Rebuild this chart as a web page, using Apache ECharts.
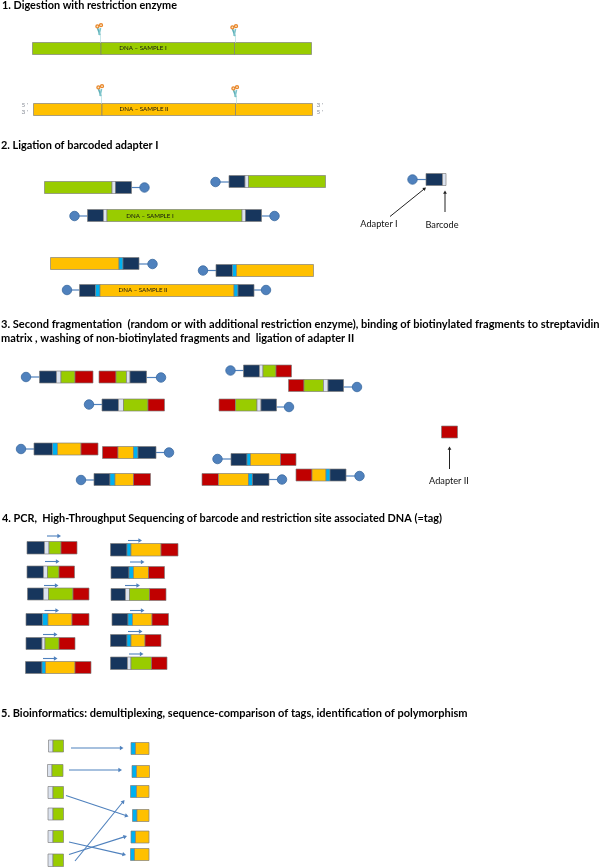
<!DOCTYPE html>
<html><head><meta charset="utf-8">
<style>html,body{margin:0;padding:0;background:#fff}#c{width:600px;height:868px}</style>
<script src="https://cdn.jsdelivr.net/npm/echarts@6/dist/echarts.min.js"></script>
</head><body><div id="c"></div>
<script>
// ---- text ----
const titles = [
  ["1. Digestion with restriction enzyme", 2, 5, 10.87],
  ["2. Ligation of barcoded adapter I", 1, 145, 10.95],
  ["3. Second fragmentation  (random or with additional restriction enzyme), binding of biotinylated fragments to streptavidin", 1, 324, 11.1],
  ["matrix , washing of non-biotinylated fragments and  ligation of adapter II", 1, 338.5, 11],
  ["4. PCR,  High-Throughput Sequencing of barcode and restriction site associated DNA (=tag)", 2, 518.5, 10.88],
  ["5. Bioinformatics: demultiplexing, sequence-comparison of tags, identification of polymorphism", 1, 713, 11.04]
];
const sampleLabels = [["DNA – SAMPLE I",143,48],["DNA – SAMPLE II",144,109],["DNA – SAMPLE I",150,216],["DNA – SAMPLE II",143,290]];
const calloutLabels = [["Adapter I",379,224],["Barcode",442,225],["Adapter II",449,481]];
const endLabels = [["5 '",25,105],["3 '",25,112],["3 '",320,105],["5 '",320,112]];
// ---- parts: n navy adapter, w white barcode, b blue barcode, g green DNA, y yellow DNA, r red adapter ----
// [top, bottom, part letters, edge x positions]
const digestFragments = [
  [42.5,54.5,"ggg",[32.5,101,234.5,311.5]],
  [103.5,115.5,"yyy",[33.5,102,235.5,312.5]]
];
const ligatedFragments = [
  [181.5,193.5,"gwn",[44.5,112,115.5,131.5]],
  [175.5,187.5,"nwg",[229,245,248.5,325.5]],
  [209.5,221.5,"nwgwn",[87.5,103.5,107,242,245.5,261.5]],
  [257.5,269.5,"ybn",[50.5,119,123,139]],
  [264.5,276.5,"nby",[216,232.5,236.5,313.5]],
  [284.5,296.5,"nbybn",[79.5,95.5,100,234,238,254]],
  [173.5,185.5,"nw",[426,442.5,446]]
];
const secondFragments = [
  [371,383,"nwgr",[39.5,56.5,61,75,93]],
  [371,383,"rgwn",[99,116,126.5,130,146.5]],
  [399,411,"nwgr",[102,118.5,123.5,148,164.5]],
  [443,455,"nbyr",[34,52.5,57.5,81,98]],
  [446.5,458.5,"rybn",[102.5,118,133.5,138,156]],
  [473.5,485.5,"nbyr",[94,110,115,133.5,150.5]],
  [365,377,"nwgr",[243.5,259.5,263,276,291.5]],
  [379.5,391.5,"rgwn",[288.5,304,323.5,328,343.5]],
  [399,411,"rgwn",[219,235.5,257,261,276.5]],
  [453.5,465.5,"nbyr",[231,247,250.5,280.5,296]],
  [473.5,485.5,"rybn",[202,218.5,248.5,252.5,269]],
  [469,481,"rybn",[296,312,326,330,346]],
  [426,438,"r",[441.5,457.5]]
];
const pcrFragments = [
  [541.5,554,"nwgr",[27,44.5,49,61,77]],
  [566,578,"nwgr",[27,43.5,47.5,59,74.5]],
  [588,600,"nwgr",[27.5,43.5,48.5,73,89]],
  [613.5,625.5,"nbyr",[26,42.5,48,72,89]],
  [637.5,649.5,"nwgr",[26,42,45,59,75]],
  [661.5,673.5,"nbyr",[25.5,42,45.5,75,91]],
  [543.5,556,"nbyr",[110.5,127,131,161,178]],
  [566.5,578.5,"nbyr",[111,129,133.5,148.5,164.5]],
  [588.5,600.5,"nwgr",[111,125.5,129.5,149.5,166]],
  [613.5,625.5,"nbyr",[112,128,132.5,152,168.5]],
  [634.5,646.5,"nbyr",[110.5,127,131,145,161]],
  [657,669.5,"nwgr",[110.5,127.5,131,151.5,167]]
];
const tagFragments = [
  [740,752,"wg",[48.5,53,63.5]],
  [764.5,776.5,"wg",[47.5,52,63]],
  [786.5,798.5,"wg",[48,53,63.5]],
  [808,820,"wg",[48,53,63.5]],
  [830.5,842.5,"wg",[48,53,63.5]],
  [854,866.5,"wg",[48,53,63.5]],
  [742.5,754.5,"by",[131,135.5,149]],
  [765.5,777.5,"by",[132,136.5,149.5]],
  [785.5,797.5,"by",[130.5,136.5,149]],
  [809.5,821.5,"by",[132.5,137,149]],
  [831,843,"by",[131,135.5,149]],
  [848.5,860.5,"by",[130.5,134.5,149]]
];
// biotin tether: [bead x, bead y, fragment end x]
const biotinAdapters = [
  [144.5,187.5,131.5],[215.5,182,229],[74.5,216,87.5],[274.5,216,261.5],
  [152.5,264,139],[203,270.5,216],[67,290,79.5],[266,290,254],[412.5,179.5,426],
  [26,377,39.5],[161,377.5,146.5],[89,404.5,102],
  [21,449,34],[169,452.5,156],[81,480,94],
  [230.5,370.5,243.5],[357,387,343.5],[289,407,276.5],
  [217.5,459,231],[282,479.5,269],[359.5,476,346]
];
// restriction sites: scissors [x, y, bar top]
const cutSites = [[99,29,42.5],[234,30,42.5],[100,90,103.5],[235,91,103.5]];
const blueArrows = [
  [47,536,61,536],[45,561.5,59.5,561.5],[44,585.5,58.5,585.5],[44.5,610.5,59,610.5],[43,634.5,57.5,634.5],[43,658.5,57.5,658.5],
  [128,540.5,142,540.5],[130,562,144.5,562],[125,585.5,140,585.5],[130,610.5,144.5,610.5],[128,631.5,142.5,631.5],[129,654,143.5,654],
  [71,748,123.5,748],[69,770,122,770],[66,795.5,128.5,816.5],[75,861,124.5,800],[69,854.5,127,836],[69,842,126,855]
];
const blackArrows = [[390,216.5,426,187.5],[445,212,445,190.5],[449.5,469,449.5,446.5]];

const partColors = {n:"#17365D",w:"#DCE3EF",b:"#00B0F0",g:"#99CC00",y:"#FFC000",r:"#C00000"};
const allFragments = [...digestFragments,...ligatedFragments,...secondFragments,...pcrFragments,...tagFragments];
const segments = [];
allFragments.forEach(([t,b,parts,edges])=>{
  [...parts].forEach((p,i)=>segments.push({value:[edges[i],t,edges[i+1],b],color:partColors[p]}));
});
const arrowRows = [...blueArrows.map(a=>({value:a,color:"#4F81BD",w:1.1,h:3.6})),...blackArrows.map(a=>({value:a,color:"#222",w:1,h:3.2}))];
const textRows = [
  ...titles.map(t=>({value:[t[1],t[2]],text:t[0],font:"bold "+t[3]+"px Lato",color:"#000",align:"left"})),
  ...sampleLabels.map(t=>({value:[t[1],t[2]],text:t[0],font:"6.2px Lato",color:"#111",align:"center"})),
  ...calloutLabels.map(t=>({value:[t[1],t[2]],text:t[0],font:"9.2px Lato",color:"#111",align:"center"})),
  ...endLabels.map(t=>({value:[t[1],t[2]],text:t[0],font:"6.5px Lato",color:"#8a8f99",align:"center"}))
];
const chart = echarts.init(document.getElementById("c"),null,{renderer:"canvas"});
chart.setOption({
  animation:false,
  backgroundColor:"#fff",
  grid:{left:0,right:0,top:0,bottom:0},
  xAxis:{type:"value",min:0,max:600,show:false},
  yAxis:{type:"value",min:0,max:868,inverse:true,show:false},
  series:[
    {type:"custom",silent:true,clip:false,data:biotinAdapters,renderItem(p,api){
      const a=api.coord([api.value(0),api.value(1)]),b=api.coord([api.value(2),api.value(1)]);
      return {type:"line",shape:{x1:a[0],y1:a[1],x2:b[0],y2:b[1]},style:{stroke:"#4F81BD",lineWidth:1.2}};
    }},
    {type:"custom",silent:true,clip:false,data:segments,renderItem(p,api){
      const a=api.coord([api.value(0),api.value(1)]),b=api.coord([api.value(2),api.value(3)]);
      return {type:"rect",shape:{x:a[0],y:a[1],width:b[0]-a[0],height:b[1]-a[1]},
        style:{fill:segments[p.dataIndex].color,stroke:"rgba(125,125,125,0.75)",lineWidth:0.9}};
    }},
    {type:"scatter",silent:true,clip:false,symbol:"circle",symbolSize:9.5,
     data:biotinAdapters.map(a=>[a[0],a[1]]),
     itemStyle:{color:"#4F81BD",borderColor:"#3A6A9F",borderWidth:0.8,opacity:1}},
    {type:"custom",silent:true,clip:false,data:arrowRows,renderItem(p,api){
      const r=arrowRows[p.dataIndex];
      const a=api.coord([api.value(0),api.value(1)]),b=api.coord([api.value(2),api.value(3)]);
      const dx=b[0]-a[0],dy=b[1]-a[1],L=Math.hypot(dx,dy),ux=dx/L,uy=dy/L,h=r.h,wd=h*0.6;
      return {type:"group",children:[
        {type:"line",shape:{x1:a[0],y1:a[1],x2:b[0]-ux*h*0.8,y2:b[1]-uy*h*0.8},style:{stroke:r.color,lineWidth:r.w}},
        {type:"polygon",shape:{points:[[b[0],b[1]],[b[0]-ux*h-uy*wd,b[1]-uy*h+ux*wd],[b[0]-ux*h+uy*wd,b[1]-uy*h-ux*wd]]},style:{fill:r.color}}
      ]};
    }},
    {type:"custom",silent:true,clip:false,data:cutSites,renderItem(p,api){
      const o=api.coord([api.value(0),api.value(1)]),bar=api.coord([api.value(0)+1.5,api.value(2)]);
      const x=o[0],y=o[1];
      return {type:"group",children:[
        {type:"line",shape:{x1:bar[0],y1:y+6,x2:bar[0],y2:bar[1]},style:{stroke:"#C8E8EA",lineWidth:1}},
        {type:"line",shape:{x1:x-1.5,y1:y-1,x2:x+1,y2:y+6},style:{stroke:"#5FB0B8",lineWidth:1.6}},
        {type:"line",shape:{x1:x+1.5,y1:y-1,x2:x,y2:y+6},style:{stroke:"#7CC4CB",lineWidth:1.6}},
        {type:"circle",shape:{cx:x-1.6,cy:y-2.6,r:1.5},style:{fill:"#FBE3C4",stroke:"#E8872B",lineWidth:1.3}},
        {type:"circle",shape:{cx:x+2,cy:y-3.8,r:1.5},style:{fill:"#FBE3C4",stroke:"#E8872B",lineWidth:1.3}}
      ]};
    }},
    {type:"custom",silent:false,clip:false,data:textRows,renderItem(p,api){
      const r=textRows[p.dataIndex],a=api.coord([api.value(0),api.value(1)]);
      return {type:"text",x:a[0],y:a[1],style:{text:r.text,font:r.font,fill:r.color,align:r.align,verticalAlign:"middle"}};
    }}
  ]
});
</script></body></html>
